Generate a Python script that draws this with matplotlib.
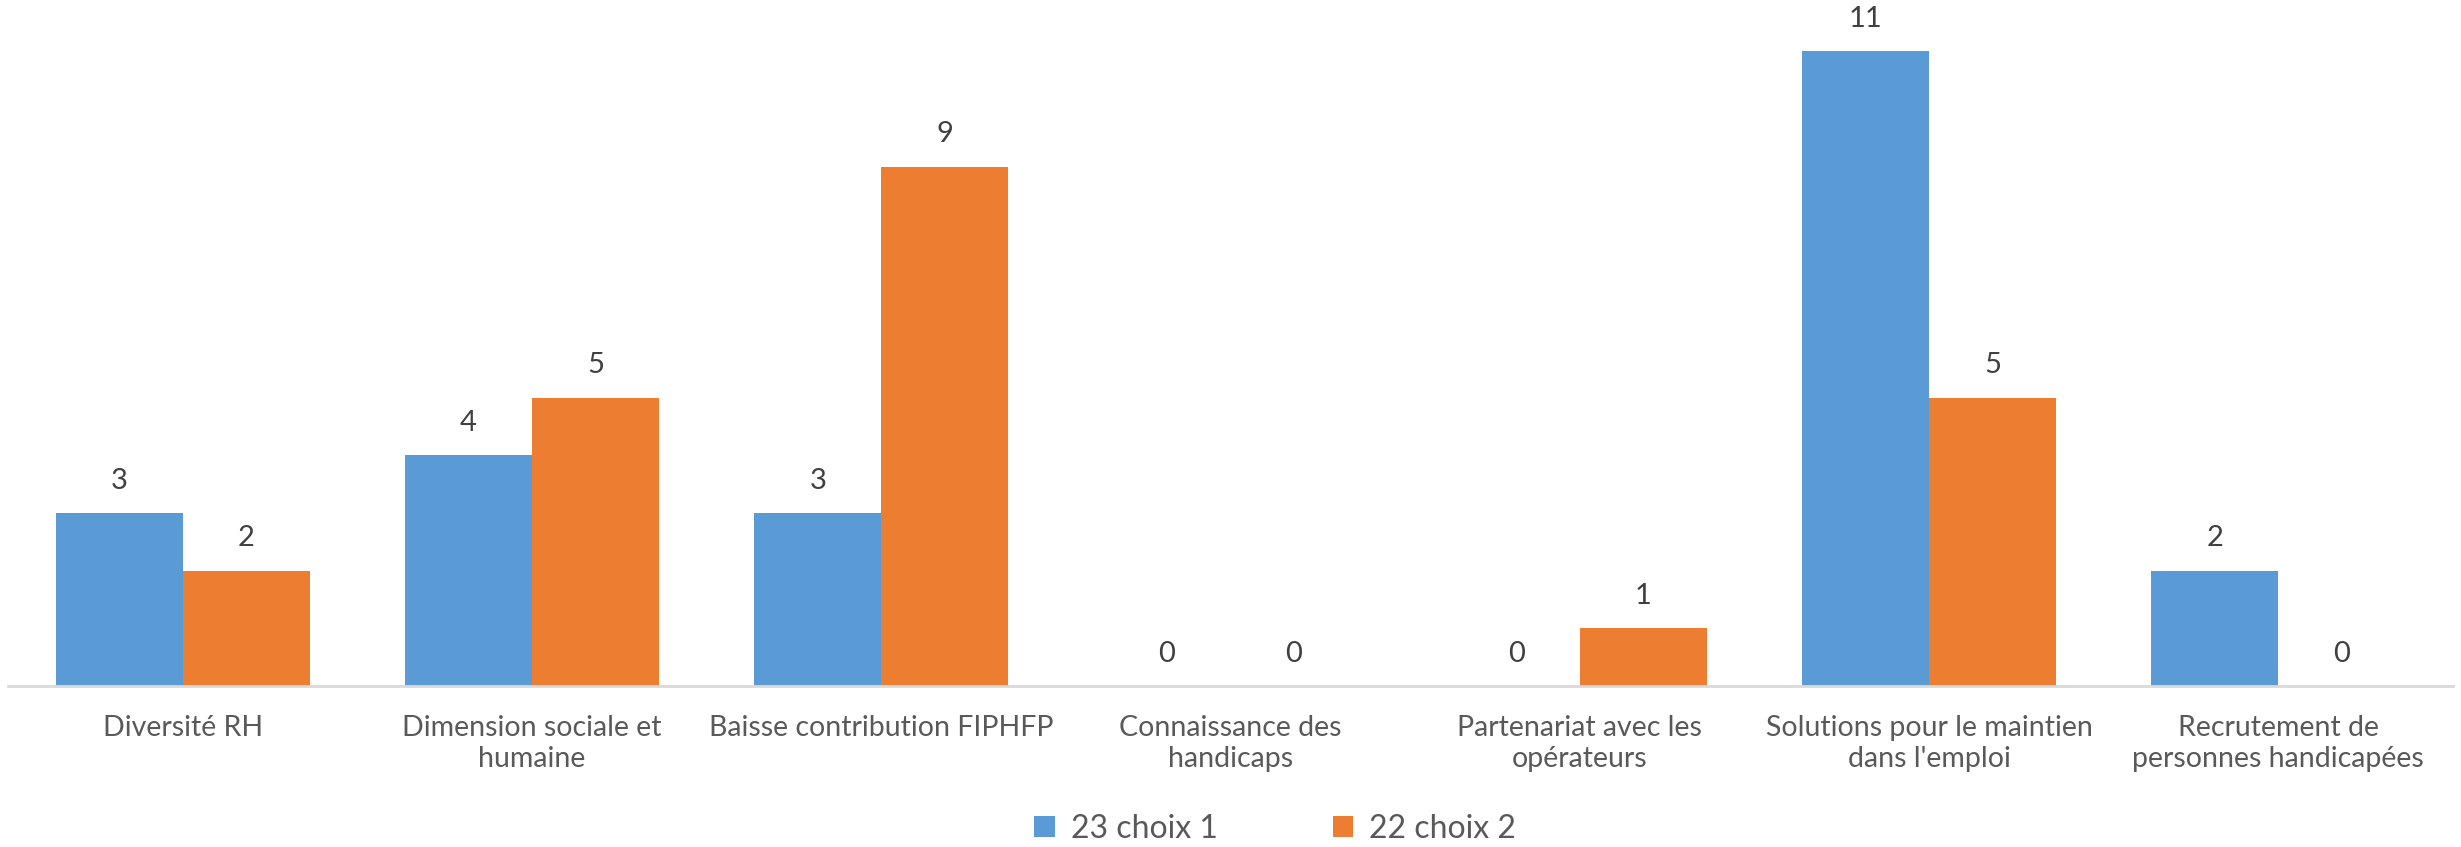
import matplotlib
matplotlib.use("Agg")
import matplotlib.pyplot as plt
import numpy as np

categories = ["Diversité RH", "Dimension sociale et\nhumaine", "Baisse contribution FIPHFP",
              "Connaissance des\nhandicaps", "Partenariat avec les\nopérateurs",
              "Solutions pour le maintien\ndans l'emploi", "Recrutement de\npersonnes handicapées"]
series_names = ["23 choix 1", "22 choix 2"]
choix1 = [3, 4, 3, 0, 0, 11, 2]
choix2 = [2, 5, 9, 0, 1, 5, 0]
colors = ["#5B9BD5", "#ED7D31"]

plt.rcParams['font.family'] = ['Lato', 'DejaVu Sans']

fig = plt.figure(figsize=(24.61, 8.47), dpi=100)
ax = fig.add_axes([0.00325, 0.19, 0.9935, 0.81])

x = np.arange(len(categories))
w = 127 / 349.3
b1 = ax.bar(x - w / 2, choix1, w, color=colors[0], label=series_names[0])
b2 = ax.bar(x + w / 2, choix2, w, color=colors[1], label=series_names[1])

for bars, vals in ((b1, choix1), (b2, choix2)):
    for r, v in zip(bars, vals):
        ax.annotate(str(v), (r.get_x() + r.get_width() / 2, v), xytext=(0, 14),
                    textcoords="offset points", ha="center", va="bottom",
                    fontsize=21, color="#404040")

ax.set_xlim(-0.5, len(categories) - 0.5)
ax.set_ylim(0, 11.89)
ax.set_yticks([])
for s in ["top", "right", "left"]:
    ax.spines[s].set_visible(False)
ax.spines["bottom"].set_color("#d9d9d9")
ax.spines["bottom"].set_linewidth(2)
ax.set_xticks(x)
ax.set_xticklabels(categories, fontsize=20.5, color="#595959", linespacing=1.25)
ax.tick_params(axis="x", length=0, pad=21)

leg = fig.legend(handles=[b1, b2], labels=series_names, loc="center",
                 bbox_to_anchor=(1275 / 2461, 1 - 829 / 847), ncol=2, frameon=False,
                 fontsize=23, handlelength=0.65, handleheight=0.65, handletextpad=0.5,
                 columnspacing=3.6)
for t in leg.get_texts():
    t.set_color("#595959")

fig.savefig("out.png", dpi=100)
